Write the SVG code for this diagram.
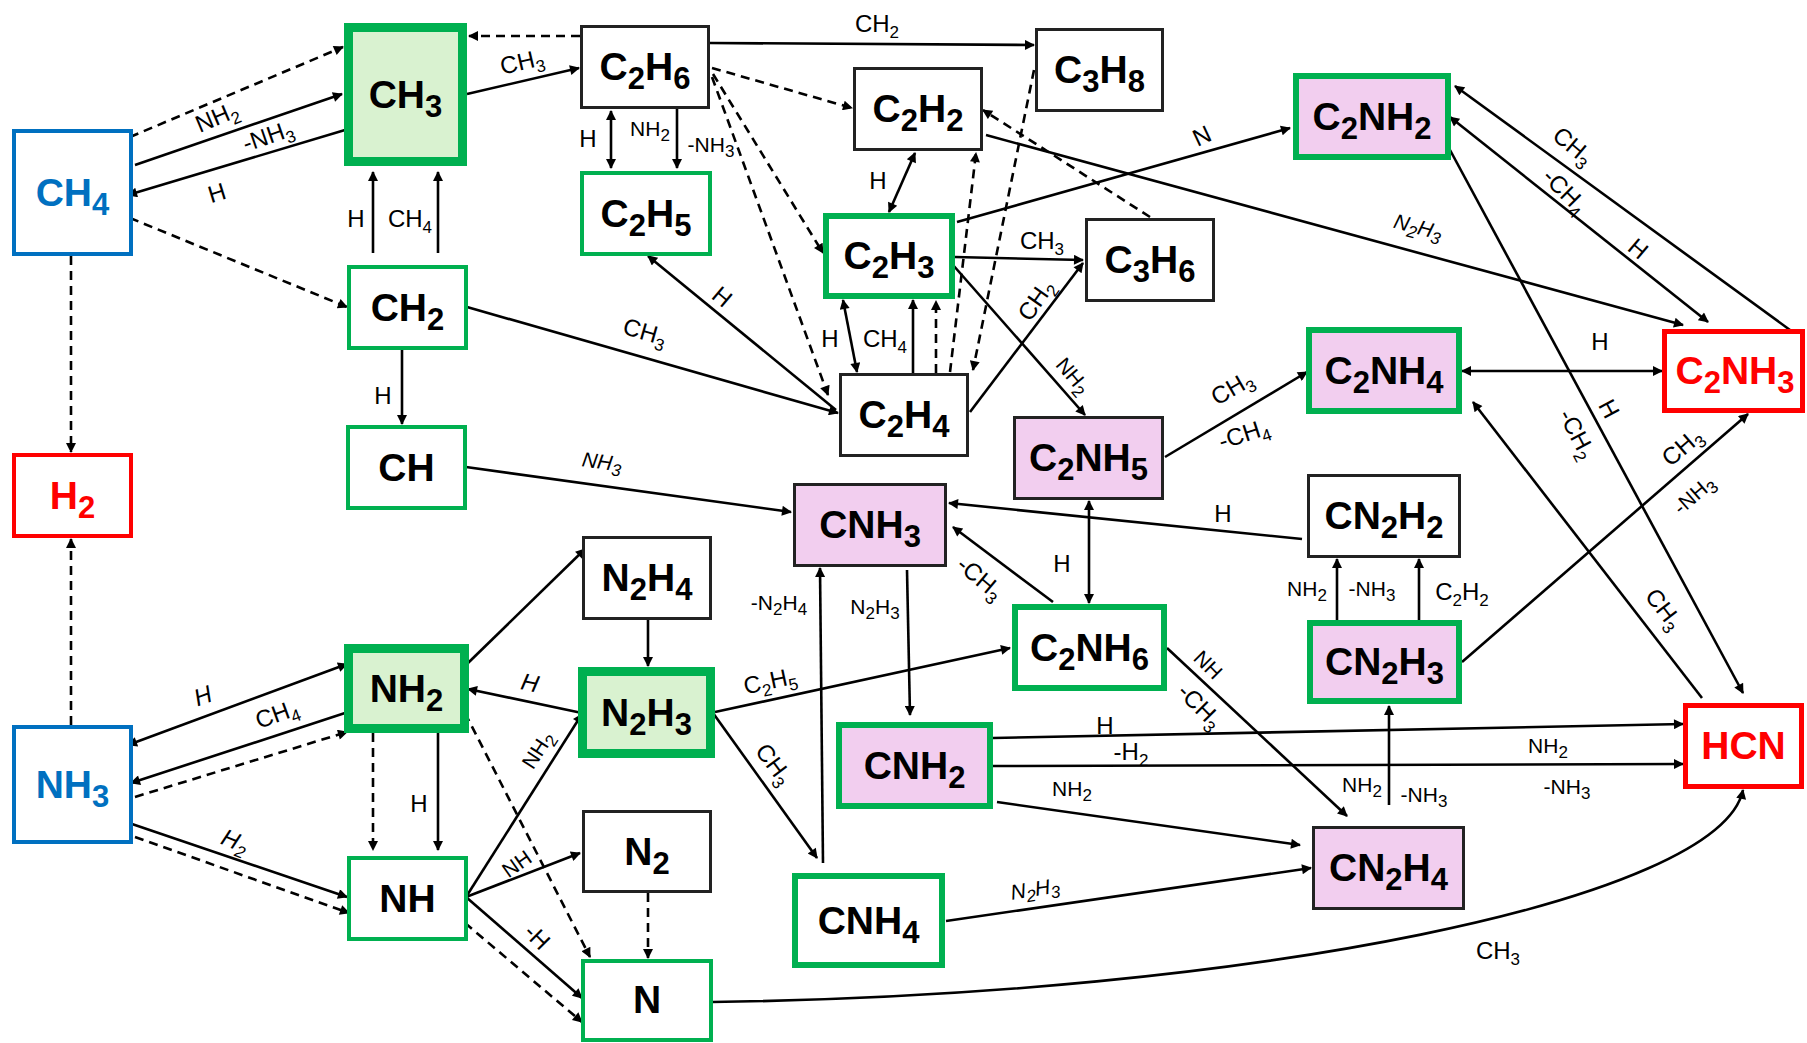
<svg xmlns="http://www.w3.org/2000/svg" width="1807" height="1043" viewBox="0 0 1807 1043">
<style>
.e{stroke:#000;stroke-width:2.6;fill:none}
.d{stroke:#000;stroke-width:2.6;fill:none;stroke-dasharray:9 6}
.m{marker-end:url(#a)}
.b{marker-start:url(#a);marker-end:url(#a)}
.n{font-family:"Liberation Sans",Arial,sans-serif;font-weight:bold;font-size:39px;text-anchor:middle;fill:#000}
.ns{font-size:31px}
.l{font-family:"Liberation Sans",Arial,sans-serif;font-size:24px;text-anchor:middle;fill:#000}
.ls{font-size:17px}
.it{font-style:italic}
.g1{fill:#fff;stroke:#00B050;stroke-width:4}
.g2{fill:#fff;stroke:#00B050;stroke-width:6}
.g3{fill:#D9F2D0;stroke:#00B050;stroke-width:9}
.gp{fill:#F2CEEF;stroke:#00B050;stroke-width:6}
.k{fill:#fff;stroke:#222;stroke-width:3}
.kp{fill:#F2CEEF;stroke:#222;stroke-width:3}
.r{fill:#fff;stroke:#FF0000;stroke-width:5}
.bl{fill:#fff;stroke:#0070C0;stroke-width:4}
.tr{fill:#FF0000}
.tb{fill:#0070C0}
</style>
<defs>
<marker id="a" viewBox="0 0 10 10" refX="9" refY="5" markerWidth="13" markerHeight="10" markerUnits="userSpaceOnUse" orient="auto-start-reverse"><path d="M0,0 L10,5 L0,10 z" fill="#000"/></marker>
</defs>
<rect width="1807" height="1043" fill="#fff"/>
<g id="connectors">
<path class="d m" d="M130,137 L343,47"/>
<path class="e m" d="M135,165 L342,94"/>
<path class="e m" d="M345,130 L128,195"/>
<path class="d m" d="M130,218 L347,307"/>
<path class="d m" d="M71,256 L71,452"/>
<path class="e m" d="M373,253 L373,172"/>
<path class="e m" d="M438,253 L438,172"/>
<path class="d m" d="M580,36 L469,36"/>
<path class="e m" d="M467,94 L579,68"/>
<path class="e m" d="M710,43 L1034,45"/>
<path class="e b" d="M611,111 L611,168"/>
<path class="e m" d="M677,109 L677,168"/>
<path class="d m" d="M712,68 L852,108"/>
<path class="d m" d="M713,74 L823,253"/>
<path class="d m" d="M712,77 L828,395"/>
<path class="e m" d="M836,410 L648,256"/>
<path class="e m" d="M467,307 L838,413"/>
<path class="e b" d="M889,212 L915,153"/>
<path class="d m" d="M950,372 L976,153"/>
<path class="d m" d="M1034,70 L973,370"/>
<path class="d m" d="M936,373 L936,301"/>
<path class="e m" d="M913,373 L913,300"/>
<path class="e b" d="M843,300 L857,372"/>
<path class="d m" d="M1150,217 L983,110"/>
<path class="e m" d="M986,135 L1683,325"/>
<path class="e m" d="M957,222 L1290,128"/>
<path class="e m" d="M955,257 L1083,260"/>
<path class="e m" d="M970,412 L1083,263"/>
<path class="e m" d="M953,265 L1085,415"/>
<path class="e m" d="M1790,330 L1455,86"/>
<path class="e b" d="M1450,117 L1708,322"/>
<path class="e m" d="M1450,150 L1743,693"/>
<path class="e b" d="M1462,371 L1662,371"/>
<path class="e m" d="M1702,698 L1473,402"/>
<path class="e m" d="M1462,662 L1748,414"/>
<path class="e m" d="M1419,620 L1419,559"/>
<path class="e m" d="M1337,620 L1337,559"/>
<path class="e m" d="M1302,539 L949,503"/>
<path class="e b" d="M1089,501 L1089,603"/>
<path class="e m" d="M1053,602 L953,527"/>
<path class="e m" d="M1165,457 L1307,372"/>
<path class="e m" d="M715,712 L1010,648"/>
<path class="e m" d="M1167,648 L1347,816"/>
<path class="e m" d="M907,570 L910,715"/>
<path class="e m" d="M823,863 L820,568"/>
<path class="e m" d="M713,713 L817,858"/>
<path class="e m" d="M466,467 L791,512"/>
<path class="e m" d="M468,663 L585,549"/>
<path class="e m" d="M648,620 L648,666"/>
<path class="e m" d="M582,713 L468,689"/>
<path class="e m" d="M466,897 L582,714"/>
<path class="d m" d="M465,713 L590,957"/>
<path class="e m" d="M466,897 L580,853"/>
<path class="e m" d="M466,897 L582,998"/>
<path class="d m" d="M465,923 L582,1022"/>
<path class="d m" d="M648,893 L648,958"/>
<path class="e m" d="M712,1002 C1250,995 1720,900 1743,790"/>
<path class="e m" d="M993,738 L1683,724"/>
<path class="e m" d="M993,766 L1683,764"/>
<path class="e m" d="M997,802 L1300,845"/>
<path class="e m" d="M946,921 L1311,868"/>
<path class="e m" d="M1389,805 L1389,706"/>
<path class="e b" d="M128,745 L347,664"/>
<path class="e m" d="M345,713 L131,783"/>
<path class="d m" d="M135,797 L347,732"/>
<path class="e m" d="M132,824 L347,897"/>
<path class="d m" d="M135,837 L349,913"/>
<path class="d m" d="M373,733 L373,850"/>
<path class="e m" d="M438,733 L438,850"/>
<path class="d m" d="M71,725 L71,539"/>
<path class="e m" d="M402,350 L402,424"/>
<!-- labels -->
<text class="l" transform="translate(217,117) rotate(-23)" y="8">NH<tspan class="ls" dy="6">2</tspan></text>
<text class="l" transform="translate(268,136) rotate(-19)" y="8">-NH<tspan class="ls" dy="6">3</tspan></text>
<text class="l" transform="translate(217,193) rotate(-17)" y="8">H</text>
<text class="l" transform="translate(356,218)" y="9">H</text>
<text class="l" transform="translate(410,218)" y="9">CH<tspan class="ls" dy="6">4</tspan></text>
<text class="l" transform="translate(522,62) rotate(-13)" y="8">CH<tspan class="ls" dy="6">3</tspan></text>
<text class="l" transform="translate(877,24)" y="8">CH<tspan class="ls" dy="6">2</tspan></text>
<text class="l" transform="translate(588,138)" y="9">H</text>
<text class="l" style="font-size:21px" transform="translate(650,129)" y="7">NH<tspan class="ls" dy="5">2</tspan></text>
<text class="l" style="font-size:21px" transform="translate(711,145)" y="7">-NH<tspan class="ls" dy="5">3</tspan></text>
<text class="l" transform="translate(722,297) rotate(40)" y="8">H</text>
<text class="l" transform="translate(645,332) rotate(16)" y="8">CH<tspan class="ls" dy="6">3</tspan></text>
<text class="l" transform="translate(878,180)" y="9">H</text>
<text class="l" transform="translate(830,338)" y="9">H</text>
<text class="l" transform="translate(885,338)" y="9">CH<tspan class="ls" dy="6">4</tspan></text>
<text class="l it" style="font-size:21px" transform="translate(1418,227) rotate(15)" y="7">N<tspan class="ls" dy="5">2</tspan><tspan dy="-5">H</tspan><tspan class="ls" dy="5">3</tspan></text>
<text class="l" transform="translate(1202,136) rotate(-25)" y="8">N</text>
<text class="l" transform="translate(1042,241)" y="8">CH<tspan class="ls" dy="6">3</tspan></text>
<text class="l" transform="translate(1036,300) rotate(-55)" y="8">CH<tspan class="ls" dy="6">2</tspan></text>
<text class="l" style="font-size:21px" transform="translate(1073,376) rotate(50)" y="7">NH<tspan class="ls" dy="5">2</tspan></text>
<text class="l" transform="translate(1573,146) rotate(40)" y="8">CH<tspan class="ls" dy="6">3</tspan></text>
<text class="l" transform="translate(1565,191) rotate(45)" y="8">-CH<tspan class="ls" dy="6">4</tspan></text>
<text class="l" transform="translate(1638,249) rotate(40)" y="8">H</text>
<text class="l" transform="translate(1609,409) rotate(62)" y="8">H</text>
<text class="l" transform="translate(1577,434) rotate(62)" y="8">-CH<tspan class="ls" dy="6">2</tspan></text>
<text class="l" transform="translate(1600,341)" y="9">H</text>
<text class="l" transform="translate(1664,609) rotate(52)" y="8">CH<tspan class="ls" dy="6">3</tspan></text>
<text class="l" transform="translate(1682,447) rotate(-41)" y="8">CH<tspan class="ls" dy="6">3</tspan></text>
<text class="l" style="font-size:21px" transform="translate(1694,495) rotate(-41)" y="7">-NH<tspan class="ls" dy="5">3</tspan></text>
<text class="l" transform="translate(1462,592)" y="8">C<tspan class="ls" dy="6">2</tspan><tspan dy="-6">H</tspan><tspan class="ls" dy="6">2</tspan></text>
<text class="l" style="font-size:21px" transform="translate(1307,589)" y="7">NH<tspan class="ls" dy="5">2</tspan></text>
<text class="l" style="font-size:21px" transform="translate(1372,589)" y="7">-NH<tspan class="ls" dy="5">3</tspan></text>
<text class="l" transform="translate(1223,513)" y="9">H</text>
<text class="l" transform="translate(1062,563)" y="9">H</text>
<text class="l" transform="translate(980,578) rotate(40)" y="8">-CH<tspan class="ls" dy="6">3</tspan></text>
<text class="l" transform="translate(1232,388) rotate(-30)" y="8">CH<tspan class="ls" dy="6">3</tspan></text>
<text class="l" transform="translate(1244,434) rotate(-18)" y="8">-CH<tspan class="ls" dy="6">4</tspan></text>
<text class="l" transform="translate(770,681) rotate(-12)" y="8">C<tspan class="ls" dy="6">2</tspan><tspan dy="-6">H</tspan><tspan class="ls" dy="6">5</tspan></text>
<text class="l" style="font-size:21px" transform="translate(1208,665) rotate(45)" y="7">NH</text>
<text class="l" transform="translate(1200,706) rotate(45)" y="8">-CH<tspan class="ls" dy="6">3</tspan></text>
<text class="l" style="font-size:21px" transform="translate(875,607)" y="7">N<tspan class="ls" dy="5">2</tspan><tspan dy="-5">H</tspan><tspan class="ls" dy="5">3</tspan></text>
<text class="l" style="font-size:21px" transform="translate(779,603)" y="7">-N<tspan class="ls" dy="5">2</tspan><tspan dy="-5">H</tspan><tspan class="ls" dy="5">4</tspan></text>
<text class="l" transform="translate(774,764) rotate(53)" y="8">CH<tspan class="ls" dy="6">3</tspan></text>
<text class="l it" style="font-size:21px" transform="translate(602,462) rotate(8)" y="7">NH<tspan class="ls" dy="5">3</tspan></text>
<text class="l it" transform="translate(530,683) rotate(12)" y="8">H</text>
<text class="l" style="font-size:21px" transform="translate(538,750) rotate(-57)" y="7">NH<tspan class="ls" dy="5">2</tspan></text>
<text class="l" style="font-size:21px" transform="translate(517,864) rotate(-35)" y="7">NH</text>
<text class="l" transform="translate(537,937) rotate(45)" y="8">-H</text>
<text class="l" transform="translate(1498,951)" y="8">CH<tspan class="ls" dy="6">3</tspan></text>
<text class="l" transform="translate(1105,725)" y="9">H</text>
<text class="l" transform="translate(1131,752)" y="8">-H<tspan class="ls" dy="6">2</tspan></text>
<text class="l" style="font-size:21px" transform="translate(1548,746)" y="7">NH<tspan class="ls" dy="5">2</tspan></text>
<text class="l" style="font-size:21px" transform="translate(1567,787)" y="7">-NH<tspan class="ls" dy="5">3</tspan></text>
<text class="l" style="font-size:21px" transform="translate(1072,789)" y="7">NH<tspan class="ls" dy="5">2</tspan></text>
<text class="l it" style="font-size:21px" transform="translate(1035,889) rotate(-9)" y="7">N<tspan class="ls" dy="5">2</tspan><tspan dy="-5">H</tspan><tspan class="ls" dy="5">3</tspan></text>
<text class="l" style="font-size:21px" transform="translate(1362,785)" y="7">NH<tspan class="ls" dy="5">2</tspan></text>
<text class="l" style="font-size:21px" transform="translate(1424,795)" y="7">-NH<tspan class="ls" dy="5">3</tspan></text>
<text class="l it" transform="translate(203,696) rotate(-20)" y="8">H</text>
<text class="l" transform="translate(277,714) rotate(-20)" y="8">CH<tspan class="ls" dy="6">4</tspan></text>
<text class="l it" transform="translate(235,841) rotate(22)" y="8">H<tspan class="ls" dy="6">2</tspan></text>
<text class="l" transform="translate(419,803)" y="9">H</text>
<text class="l" transform="translate(383,395)" y="9">H</text>
</g>
<g id="CH4"><rect class="bl" x="14" y="131" width="117" height="123"/><text class="n tb" x="72.5" y="206">CH<tspan class="ns" dy="9">4</tspan></text></g>
<g id="H2"><rect class="r" x="14" y="455" width="117" height="81" style="stroke-width:4"/><text class="n tr" x="72.5" y="509">H<tspan class="ns" dy="9">2</tspan></text></g>
<g id="NH3"><rect class="bl" x="14" y="727" width="117" height="115"/><text class="n tb" x="72.5" y="798">NH<tspan class="ns" dy="9">3</tspan></text></g>
<g id="CH3"><rect class="g3" x="348.5" y="27.5" width="114" height="134"/><text class="n" x="405.5" y="108">CH<tspan class="ns" dy="9">3</tspan></text></g>
<g id="CH2"><rect class="g1" x="349" y="267" width="117" height="81"/><text class="n" x="407.5" y="321">CH<tspan class="ns" dy="9">2</tspan></text></g>
<g id="CH"><rect class="g1" x="348" y="427" width="117" height="81"/><text class="n" x="406.5" y="481">CH</text></g>
<g id="NH2"><rect class="g3" x="348.5" y="648.5" width="116" height="80"/><text class="n" x="406.5" y="702">NH<tspan class="ns" dy="9">2</tspan></text></g>
<g id="NH"><rect class="g1" x="349" y="858" width="117" height="81"/><text class="n" x="407.5" y="912">NH</text></g>
<g id="C2H6"><rect class="k" x="581.5" y="26.5" width="127" height="81"/><text class="n" x="645" y="80">C<tspan class="ns" dy="9">2</tspan><tspan dy="-9">H</tspan><tspan class="ns" dy="9">6</tspan></text></g>
<g id="C2H5"><rect class="g1" x="582" y="173" width="128" height="81"/><text class="n" x="646" y="227">C<tspan class="ns" dy="9">2</tspan><tspan dy="-9">H</tspan><tspan class="ns" dy="9">5</tspan></text></g>
<g id="N2H4"><rect class="k" x="583.5" y="537.5" width="127" height="81"/><text class="n" x="647" y="591">N<tspan class="ns" dy="9">2</tspan><tspan dy="-9">H</tspan><tspan class="ns" dy="9">4</tspan></text></g>
<g id="N2H3"><rect class="g3" x="582.5" y="671.5" width="128" height="82"/><text class="n" x="646.5" y="726">N<tspan class="ns" dy="9">2</tspan><tspan dy="-9">H</tspan><tspan class="ns" dy="9">3</tspan></text></g>
<g id="N2"><rect class="k" x="583.5" y="811.5" width="127" height="80"/><text class="n" x="647" y="865">N<tspan class="ns" dy="9">2</tspan></text></g>
<g id="N"><rect class="g1" x="583" y="961" width="128" height="79"/><text class="n" x="647" y="1013">N</text></g>
<g id="C2H2"><rect class="k" x="854.5" y="68.5" width="127" height="81"/><text class="n" x="918" y="122">C<tspan class="ns" dy="9">2</tspan><tspan dy="-9">H</tspan><tspan class="ns" dy="9">2</tspan></text></g>
<g id="C2H3"><rect class="g2" x="826" y="216" width="126" height="80"/><text class="n" x="889" y="269">C<tspan class="ns" dy="9">2</tspan><tspan dy="-9">H</tspan><tspan class="ns" dy="9">3</tspan></text></g>
<g id="C2H4"><rect class="k" x="840.5" y="374.5" width="127" height="81"/><text class="n" x="904" y="428">C<tspan class="ns" dy="9">2</tspan><tspan dy="-9">H</tspan><tspan class="ns" dy="9">4</tspan></text></g>
<g id="CNH3"><rect class="kp" x="794.5" y="484.5" width="151" height="81"/><text class="n" x="870" y="538">CNH<tspan class="ns" dy="9">3</tspan></text></g>
<g id="CNH2"><rect class="gp" x="839" y="725" width="151" height="81"/><text class="n" x="914.5" y="779">CNH<tspan class="ns" dy="9">2</tspan></text></g>
<g id="CNH4"><rect class="g2" x="795" y="876" width="147" height="89"/><text class="n" x="868.5" y="934">CNH<tspan class="ns" dy="9">4</tspan></text></g>
<g id="C3H8"><rect class="k" x="1036.5" y="29.5" width="126" height="81"/><text class="n" x="1099.5" y="83">C<tspan class="ns" dy="9">3</tspan><tspan dy="-9">H</tspan><tspan class="ns" dy="9">8</tspan></text></g>
<g id="C3H6"><rect class="k" x="1086.5" y="219.5" width="127" height="81"/><text class="n" x="1150" y="273">C<tspan class="ns" dy="9">3</tspan><tspan dy="-9">H</tspan><tspan class="ns" dy="9">6</tspan></text></g>
<g id="C2NH5"><rect class="kp" x="1014.5" y="417.5" width="148" height="81"/><text class="n" x="1088.5" y="471">C<tspan class="ns" dy="9">2</tspan><tspan dy="-9">NH</tspan><tspan class="ns" dy="9">5</tspan></text></g>
<g id="C2NH6"><rect class="g2" x="1015" y="607" width="149" height="81"/><text class="n" x="1089.5" y="661">C<tspan class="ns" dy="9">2</tspan><tspan dy="-9">NH</tspan><tspan class="ns" dy="9">6</tspan></text></g>
<g id="C2NH2"><rect class="gp" x="1296" y="76" width="152" height="81"/><text class="n" x="1372" y="130">C<tspan class="ns" dy="9">2</tspan><tspan dy="-9">NH</tspan><tspan class="ns" dy="9">2</tspan></text></g>
<g id="C2NH4"><rect class="gp" x="1309" y="330" width="150" height="81"/><text class="n" x="1384" y="384">C<tspan class="ns" dy="9">2</tspan><tspan dy="-9">NH</tspan><tspan class="ns" dy="9">4</tspan></text></g>
<g id="CN2H2"><rect class="k" x="1308.5" y="475.5" width="151" height="81"/><text class="n" x="1384" y="529">CN<tspan class="ns" dy="9">2</tspan><tspan dy="-9">H</tspan><tspan class="ns" dy="9">2</tspan></text></g>
<g id="CN2H3"><rect class="gp" x="1310" y="623" width="149" height="78"/><text class="n" x="1384.5" y="675">CN<tspan class="ns" dy="9">2</tspan><tspan dy="-9">H</tspan><tspan class="ns" dy="9">3</tspan></text></g>
<g id="CN2H4"><rect class="kp" x="1313.5" y="827.5" width="150" height="81"/><text class="n" x="1388.5" y="881">CN<tspan class="ns" dy="9">2</tspan><tspan dy="-9">H</tspan><tspan class="ns" dy="9">4</tspan></text></g>
<g id="C2NH3"><rect class="r" x="1664.5" y="331.5" width="138" height="79"/><text class="n tr" x="1735" y="384">C<tspan class="ns" dy="9">2</tspan><tspan dy="-9">NH</tspan><tspan class="ns" dy="9">3</tspan></text></g>
<g id="HCN"><rect class="r" x="1685.5" y="705.5" width="116" height="81"/><text class="n tr" x="1743.5" y="759">HCN</text></g>
</svg>
